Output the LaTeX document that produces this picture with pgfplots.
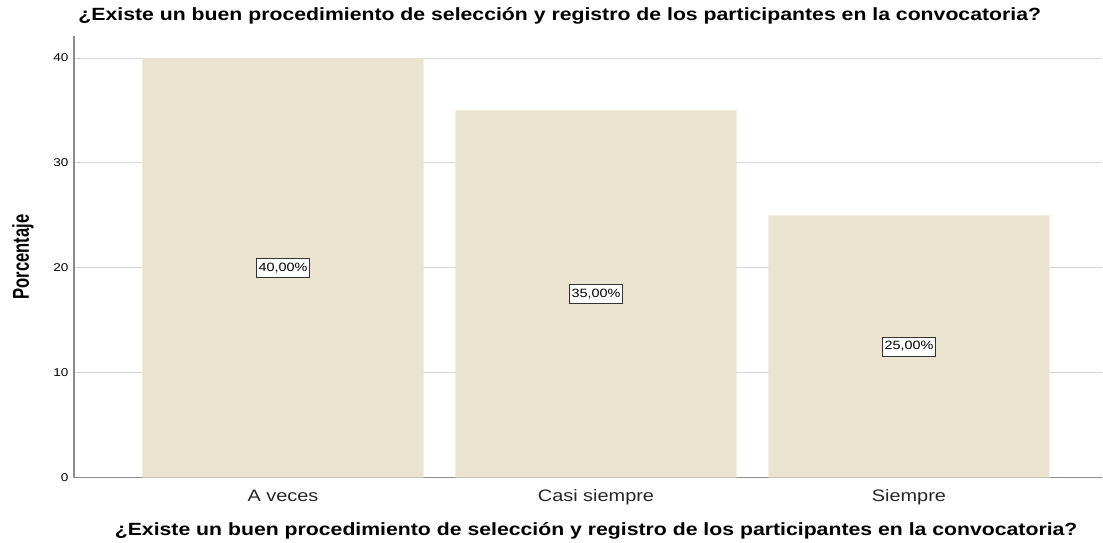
\documentclass[border=0pt]{standalone}
\usepackage{pgfplots}
\pgfplotsset{compat=1.18}
\usepackage{fontspec}
\setmainfont[FakeStretch=1.2]{Liberation Sans}
\newfontfamily\ylabfont[FakeStretch=0.72]{Liberation Sans}
\definecolor{barc}{RGB}{233,227,207}
\definecolor{axc}{RGB}{140,140,140}
\definecolor{gridc}{RGB}{215,215,215}
\begin{document}
\begin{tikzpicture}
\begin{axis}[
  name=ax,
  scale only axis,
  width=1029pt, height=442pt,
  xmin=-0.668, xmax=2.618,
  ymin=0, ymax=42.1,
  axis x line*=bottom, axis y line*=left,
  axis line style={axc, line width=1.3pt},
  ytick={0,10,20,30,40},
  ymajorgrids,
  grid style={gridc, line width=1pt},
  major tick length=0pt,
  xtick={0,1,2},
  xticklabels={A veces, Casi siempre, Siempre},
  xticklabel style={font=\fontsize{16.6}{19}\selectfont, text=black!85, anchor=base, yshift=-24pt},
  yticklabel style={font=\fontsize{11.3}{13}\selectfont, xshift=-2pt},
  /pgf/number format/assume math mode=true,
  ylabel={\ylabfont\bfseries Porcentaje},
  ylabel style={at={(axis description cs:-0.0496,0.5)}, anchor=center, font=\fontsize{23}{26}\selectfont},
  title={\bfseries ¿Existe un buen procedimiento de selección y registro de los participantes en la convocatoria?},
  title style={at={(axis description cs:0,1)}, anchor=base west, yshift=9pt, xshift=1pt, font=\fontsize{17.7}{20}\selectfont},
  xlabel={\bfseries ¿Existe un buen procedimiento de selección y registro de los participantes en la convocatoria?},
  xlabel style={at={(axis description cs:0.5,0)}, anchor=base, yshift=-58pt, xshift=8pt, font=\fontsize{17.7}{20}\selectfont},
  clip=false,
]
\addplot[ybar, bar width=0.898, fill=barc, draw=none] coordinates {(0,40) (1,35) (2,25)};
\addplot[draw=none, mark=none, nodes near coords, point meta=explicit symbolic,
  every node near coord/.style={anchor=center, draw=black!80, line width=1pt, fill=white,
    inner xsep=2pt, minimum height=19pt, font=\fontsize{12}{14}\selectfont}]
  coordinates {(0,20) [40,00\%] (1,17.5) [35,00\%] (2,12.5) [25,00\%]};
\end{axis}
\path ([shift={(-74pt,-64pt)}]ax.south west) rectangle ([shift={(0pt,36pt)}]ax.north east);
\end{tikzpicture}
\end{document}
